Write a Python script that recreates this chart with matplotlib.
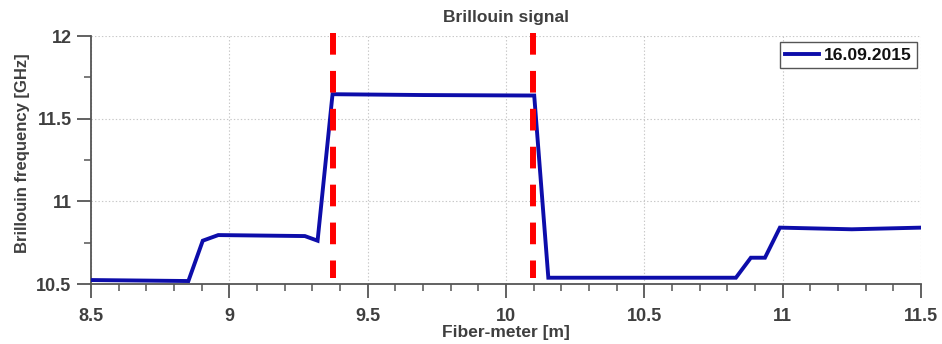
import matplotlib
matplotlib.use("Agg")
import matplotlib.pyplot as plt
from matplotlib.ticker import MultipleLocator

# Brillouin frequency profile along the fiber
fiber_m = [8.50, 8.852, 8.904, 8.960, 9.273, 9.319, 9.373, 9.70, 10.102,
           10.153, 10.831, 10.885, 10.936, 10.990, 11.25, 11.50]
freq_ghz = [10.524, 10.518, 10.762, 10.796, 10.790, 10.762, 11.648, 11.643, 11.640,
            10.538, 10.538, 10.659, 10.659, 10.841, 10.831, 10.841]
series_label = "16.09.2015"

# Section boundaries marked in red
boundaries_m = [9.376, 10.099]

TXT = "#3f3f3f"
plt.rcParams["font.family"] = ["Liberation Sans", "DejaVu Sans"]
plt.rcParams["font.weight"] = "bold"
plt.rcParams["lines.scale_dashes"] = False

fig = plt.figure(figsize=(9.42, 3.44), dpi=100)
ax = fig.add_axes([0.0966, 0.1744, 0.8811, 0.7209])

ax.plot(fiber_m, freq_ghz, color="#0d0daa", lw=2.8, label=series_label,
        solid_joinstyle="miter", zorder=3)
for xb in boundaries_m:
    # drawn top-down so the dash pattern starts at the upper edge
    ax.plot([xb, xb], [12.02, 10.535], color="#ff0000", lw=4.3,
            dashes=(15.6, 11.7), dash_capstyle="butt",
            clip_on=False, zorder=4)

ax.set_xlim(8.5, 11.5)
ax.set_ylim(10.5, 12.0)
ax.xaxis.set_minor_locator(MultipleLocator(0.1))
ax.yaxis.set_minor_locator(MultipleLocator(0.25))
ax.set_xticks([8.5, 9, 9.5, 10, 10.5, 11, 11.5])
ax.set_xticklabels(["8.5", "9", "9.5", "10", "10.5", "11", "11.5"])
ax.set_yticks([10.5, 11, 11.5, 12])
ax.set_yticklabels(["10.5", "11", "11.5", "12"])

ax.grid(True, which="major", color="#c8c8c8", ls=(0, (1, 1.5)), lw=0.8)
for side in ["top", "right"]:
    ax.spines[side].set_visible(False)
for side in ["left", "bottom"]:
    ax.spines[side].set_color("#555555")
    ax.spines[side].set_linewidth(1.3)

ax.tick_params(which="major", direction="out", length=10, width=1.3,
               color="#555555", labelcolor=TXT, labelsize=13, pad=4)
ax.tick_params(axis="x", which="major", pad=7)
ax.tick_params(which="minor", direction="out", length=5, width=1.1,
               color="#555555")

ax.set_title("Brillouin signal", fontsize=12.5, fontweight="bold", color=TXT, pad=10)
ax.set_xlabel("Fiber-meter [m]", fontsize=12.5, fontweight="bold", color=TXT,
              labelpad=0)
ax.set_ylabel("Brillouin frequency [GHz]", fontsize=12, fontweight="bold", color=TXT)
ax.yaxis.set_label_coords(-0.0735, 0.528)

leg = ax.legend(loc="upper right", bbox_to_anchor=(0.995, 0.975), fancybox=False,
                edgecolor="#555555", framealpha=1, fontsize=12.6,
                handlelength=1.9, handletextpad=0.3, borderpad=0.3, borderaxespad=0)
leg.get_frame().set_linewidth(1.0)
for t in leg.get_texts():
    t.set_fontweight("bold")
    t.set_color("#111111")

fig.savefig("out.png", dpi=100)
